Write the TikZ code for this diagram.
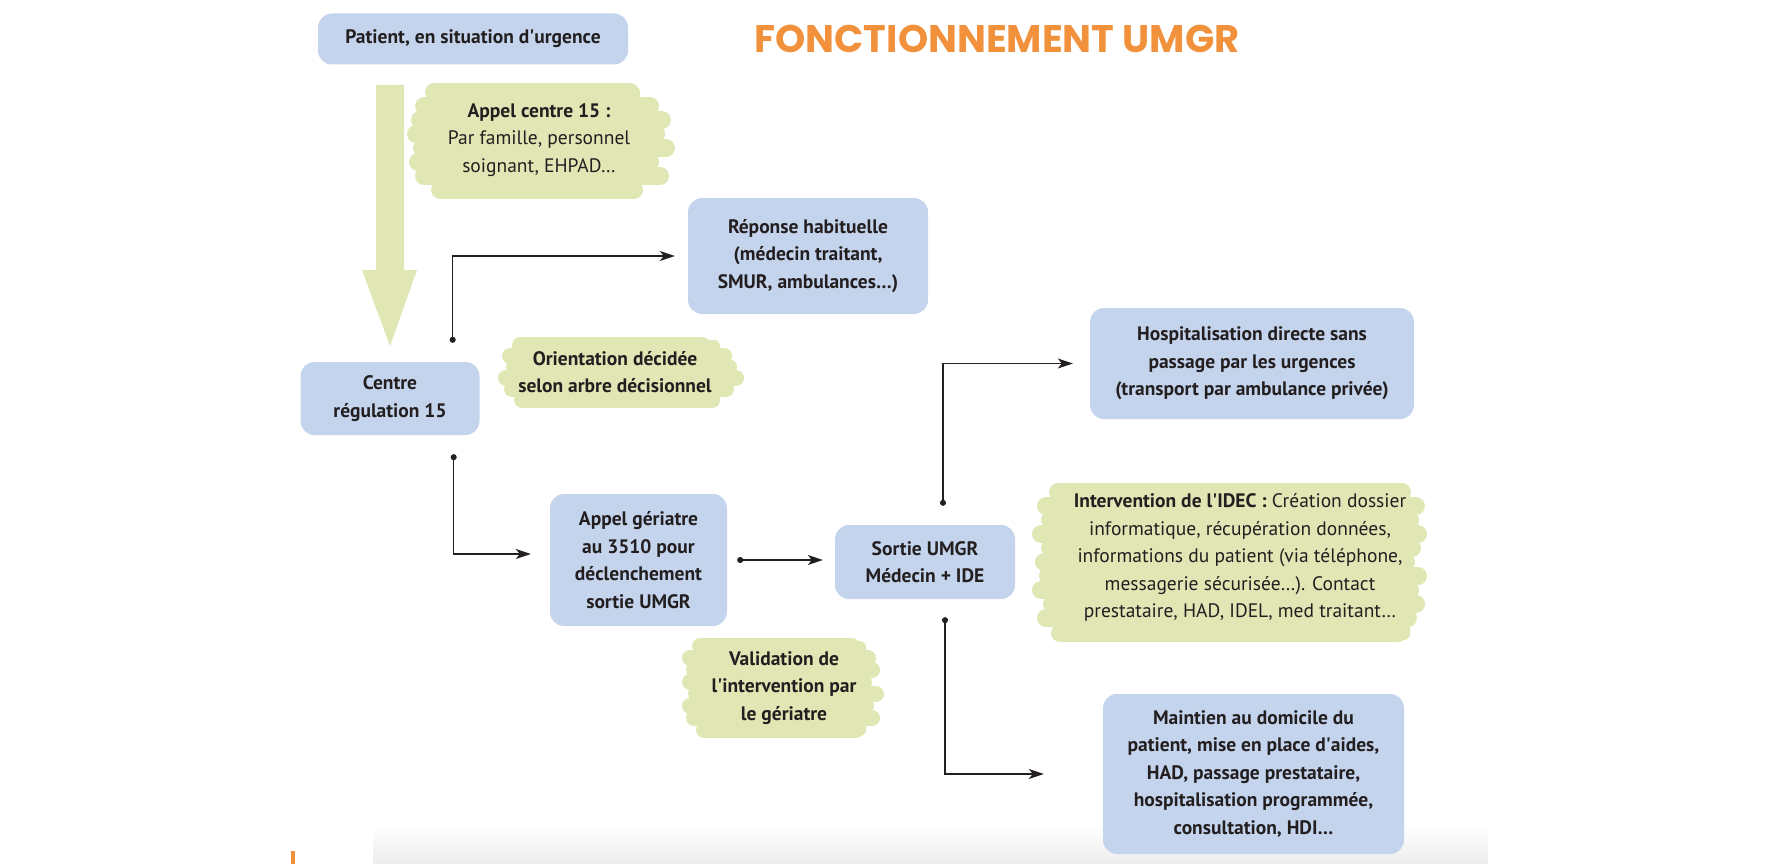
\documentclass[tikz,border=0pt]{standalone}
\usepackage{graphicx}
\usepackage{fontspec}
\setmainfont{PT Sans}
\newfontfamily\titlefont{Poppins}
\usetikzlibrary{arrows.meta}

\definecolor{boxblue}{RGB}{197,212,237}
\definecolor{brushgreen}{RGB}{225,230,181}
\definecolor{titleorange}{RGB}{242,145,60}
\definecolor{ink}{RGB}{35,31,32}
\newcommand\boxfont{\fontsize{19.5}{27.5}\selectfont}
\newcommand\ap{\textquotesingle}

\begin{document}
\begin{tikzpicture}[x=1pt,y=-1pt,
    box/.style={fill=boxblue,rounded corners=14pt,align=center,font=\boxfont\bfseries,text=ink,inner sep=0pt},
    note/.style={align=center,font=\boxfont,text=ink,inner sep=0pt},
    brush/.style={draw=brushgreen,line cap=round,line width=#1},
    brush/.default=18pt,
    core/.style={fill=brushgreen,rounded corners=6pt},
    flow/.style={{Circle[length=6pt]}-{Stealth[length=15pt,width=10pt,inset=4pt]},line width=1.4pt,draw=ink}]
        \useasboundingbox (0,0) rectangle (1779,864);
        \shade[top color=white,bottom color=black!7] (373,825) rectangle (1488,864);
        \fill[titleorange] (291,851) rectangle (295,864);

        \fill[core] (440,86) rectangle (640,197);
        \foreach \y/\a/\b in {92/434/630,106/424/650,120/420/662,134/416/656,148/422/666,162/418/650,176/424/660,190/440/634}
          \draw[brush] (\a,\y) -- (\b,\y);
        \fill[core] (520,340) rectangle (720,406);
        \foreach \y/\a/\b in {345/520/702,356/510/724,367/514/729,378/506/736,389/512/726,400/522/712}
          \draw[brush=16pt] (\a,\y) -- (\b,\y);
        \fill[core] (1060,487) rectangle (1410,640);
        \foreach \y/\a/\b in {492/1058/1402,506/1046/1416,520/1050/1410,534/1041/1418,548/1050/1412,562/1044/1406,576/1048/1418,590/1041/1410,604/1052/1416,618/1046/1408,633/1060/1398}
          \draw[brush] (\a,\y) -- (\b,\y);
        \fill[core] (700,641) rectangle (866,736);
        \foreach \y/\a/\b in {646/700/852,658/690/868,670/694/872,682/690/864,694/696/876,706/690/866,718/694/872,730/704/856}
          \draw[brush=16pt] (\a,\y) -- (\b,\y);

        \fill[brushgreen] (376,85) -- (404,85) -- (404,270) -- (417,270) -- (390,346) -- (362,270) -- (376,270) -- cycle;

        \node[text=titleorange] (titre) at (997,39) {\resizebox{485pt}{!}{\titlefont\bfseries FONCTIONNEMENT UMGR}};

        \node[box,minimum width=310pt,minimum height=51pt] (patient) at (473,39) {Patient, en situation d\ap urgence};
        \node[box,minimum width=179pt,minimum height=73pt] (centre) at (390,398.5) {Centre\\régulation 15};
        \node[box,minimum width=240pt,minimum height=116pt] (reponse) at (808,256) {Réponse habituelle\\(médecin traitant,\\SMUR, ambulances…)};
        \node[box,minimum width=324pt,minimum height=111pt] (hospit) at (1252,363.5) {Hospitalisation directe sans\\passage par les urgences\\(transport par ambulance privée)};
        \node[box,minimum width=177pt,minimum height=132pt] (appel) at (638.5,560) {Appel gériatre\\au 3510 pour\\déclenchement\\sortie UMGR};
        \node[box,minimum width=180pt,minimum height=74pt] (sortie) at (925,562) {Sortie UMGR\\Médecin + IDE};
        \node[box,minimum width=301pt,minimum height=160pt] (maintien) at (1253.5,774) {Maintien au domicile du\\patient, mise en place d\ap aides,\\HAD, passage prestataire,\\hospitalisation programmée,\\consultation, HDI…};

        \node[note] (appel15) at (539,140) {\textbf{Appel centre 15 :}\\Par famille, personnel\\soignant, EHPAD…};
        \node[note,font=\boxfont\bfseries] (orient) at (615,372) {Orientation décidée\\selon arbre décisionnel};
        \node[note] (idec) at (1240,557.5) {\textbf{Intervention de l\ap IDEC :} Création dossier\\informatique, récupération données,\\informations du patient (via téléphone,\\messagerie sécurisée…). Contact\\prestataire, HAD, IDEL, med traitant…};
        \node[note,font=\boxfont\bfseries] (valid) at (784,688) {Validation de\\l\ap intervention par\\le gériatre};

        \coordinate (d1) at ([xshift=-27pt,yshift=19pt]centre.north east);
        \coordinate (d2) at ([xshift=-26pt,yshift=-19pt]centre.south east);
        \coordinate (d3) at ([xshift=10pt]appel.east);
        \coordinate (d4) at ([xshift=18pt,yshift=19pt]sortie.north);
        \coordinate (d5) at ([xshift=20pt,yshift=-18pt]sortie.south);

        \draw[flow,shorten >=13pt] (d1) |- (reponse);
        \draw[flow,shorten >=19pt] (d2) |- ([yshift=6pt]appel.west);
        \draw[flow,shorten >=12pt] (d3) -- (d3 -| sortie.west);
        \draw[flow,shorten >=17pt] (d4) |- (hospit);
        \draw[flow,shorten >=59pt] (d5) |- (maintien);
      \end{tikzpicture}
\end{document}
